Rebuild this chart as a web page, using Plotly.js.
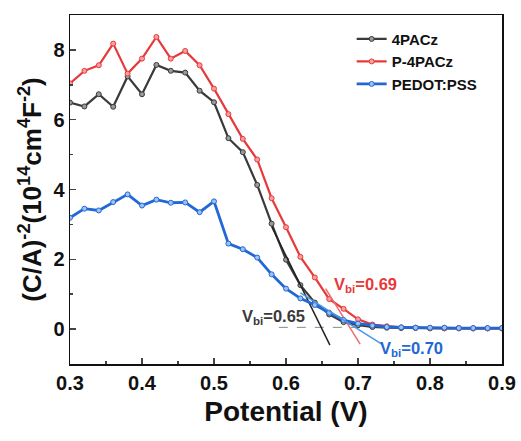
<!DOCTYPE html>
<html>
<head>
<meta charset="utf-8">
<script src="https://cdn.plot.ly/plotly-3.0.1.min.js"></script>
<style>html,body{margin:0;padding:0;background:#fff;}#chart{width:521px;height:441px;}</style>
</head>
<body>
<div id="chart"></div>
<script>
const potential = [0.30,0.32,0.34,0.36,0.38,0.40,0.42,0.44,0.46,0.48,0.50,0.52,0.54,0.56,0.58,0.60,0.62,0.64,0.66,0.68,0.70,0.72,0.74,0.76,0.78,0.80,0.82,0.84,0.86,0.88,0.90];
const pacz4 = [6.49,6.38,6.73,6.37,7.24,6.73,7.57,7.40,7.35,6.83,6.50,5.47,5.07,4.13,3.02,1.99,1.26,0.76,0.42,0.20,0.11,0.06,0.04,0.03,0.03,0.02,0.02,0.02,0.02,0.02,0.02];
const p4pacz = [7.04,7.40,7.56,8.18,7.32,7.75,8.37,7.75,7.97,7.56,6.89,6.16,5.45,4.86,3.75,2.92,2.07,1.48,0.86,0.58,0.28,0.13,0.08,0.05,0.04,0.03,0.03,0.03,0.02,0.02,0.02];
const pedot = [3.19,3.45,3.40,3.64,3.86,3.54,3.71,3.62,3.63,3.35,3.66,2.45,2.29,2.05,1.57,1.16,0.88,0.69,0.47,0.26,0.16,0.10,0.06,0.05,0.04,0.04,0.04,0.03,0.03,0.03,0.03];

const fitBlackV = [0.58, 0.661], fitBlackY = [2.94, -0.46];
const fitRedV = [0.655, 0.703], fitRedY = [1.16, -0.43];
const fitBlueV = [0.62, 0.733], fitBlueY = [1.04, -0.43];
const baseV = [0.59, 0.76], baseY = [0.05, 0.05];

const seriesNames = ['4PACz', 'P-4PACz', 'PEDOT:PSS'];
const vbiLabels = ['V<sub>bi</sub>=0.65', 'V<sub>bi</sub>=0.69', 'V<sub>bi</sub>=0.70'];
const vbiPosV = [0.582, 0.711, 0.774];
const vbiPosY = [0.34, 1.26, -0.57];

const cBlack = '#3a3a3a', cRed = '#e8393a', cBlue = '#2168d6';
const FONT = 'Liberation Sans, Arial, sans-serif';

function dataTrace(y, name, col, fill, w) {
  return {x: potential, y: y, name: name, type: 'scatter', mode: 'lines+markers',
    line: {color: col, width: w},
    marker: {symbol: 'circle', size: 5, color: fill, line: {color: col, width: 1}}};
}
function fitTrace(x, y, col, w, dash) {
  return {x: x, y: y, type: 'scatter', mode: 'lines', showlegend: false, hoverinfo: 'skip',
    line: {color: col, width: w, dash: dash || 'solid'}};
}

const traces = [
  fitTrace(baseV, baseY, '#888', 1, 'dash'),
  dataTrace(pacz4, seriesNames[0], cBlack, '#9a9a9a', 2.2),
  dataTrace(p4pacz, seriesNames[1], cRed, '#f5a0a0', 2.2),
  fitTrace(fitBlackV, fitBlackY, '#222', 1.5),
  fitTrace(fitRedV, fitRedY, '#f06a6a', 1.5),
  dataTrace(pedot, seriesNames[2], cBlue, '#9cc2f2', 2.8),
  fitTrace(fitBlueV, fitBlueY, '#4a96e6', 1.5)
];

const annCols = [cBlack, cRed, cBlue];
const annotations = vbiLabels.map((t, i) => ({
  x: vbiPosV[i], y: vbiPosY[i], xref: 'x', yref: 'y', text: '<b>' + t + '</b>', showarrow: false,
  font: {family: FONT, size: 16.5, color: annCols[i]}
}));

const layout = {
  width: 521, height: 441,
  margin: {l: 70, r: 19, t: 15, b: 77},
  paper_bgcolor: '#fff', plot_bgcolor: '#fff',
  showlegend: true,
  legend: {x: 0.652, y: 0.978, xanchor: 'left', yanchor: 'top', bgcolor: 'rgba(0,0,0,0)',
    font: {family: FONT, size: 15, color: '#111', weight: 'bold'}, tracegroupgap: 0, itemwidth: 30},
  xaxis: {range: [0.3, 0.9], dtick: 0.1, tickformat: '.1f', ticks: 'inside', ticklen: 6, tickwidth: 1.5,
    minor: {dtick: 0.05, ticks: 'inside', ticklen: 3, tickwidth: 1.5},
    showline: true, linecolor: '#111', linewidth: 1.5, mirror: true, showgrid: false, zeroline: false,
    tickfont: {family: FONT, size: 20, color: '#111', weight: 'bold'},
    title: {text: 'Potential (V)', font: {family: FONT, size: 28, color: '#111', weight: 'bold'}, standoff: 9}},
  yaxis: {range: [-1, 9], tickvals: [0, 2, 4, 6, 8], ticks: 'inside', ticklen: 6, tickwidth: 1.5,
    minor: {tickvals: [-1, 1, 3, 5, 7, 9], ticks: 'inside', ticklen: 3, tickwidth: 1.5},
    showline: true, linecolor: '#111', linewidth: 1.5, mirror: true, showgrid: false, zeroline: false,
    tickfont: {family: FONT, size: 20, color: '#111', weight: 'bold'},
    title: {text: '(C/A)<sup>-2</sup>(10<sup>14</sup>cm<sup>4</sup>F<sup>-2</sup>)', font: {family: FONT, size: 26, color: '#111', weight: 'bold'}, standoff: 4}},
  annotations: annotations
};

Plotly.newPlot('chart', traces, layout, {displayModeBar: false, staticPlot: true});
</script>
</body>
</html>
